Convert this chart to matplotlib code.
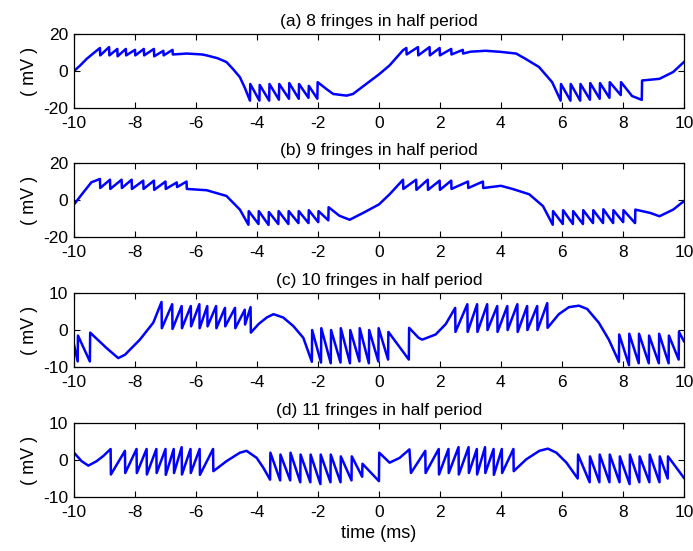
import numpy as np
import matplotlib
matplotlib.use("Agg")
import matplotlib.pyplot as plt

plt.rcParams['font.family'] = ['Liberation Sans', 'DejaVu Sans']
plt.rcParams['axes.unicode_minus'] = False

# (time ms, mV) vertices
pts_a = [(-10, 0), (-9.8, 3), (-9.58, 6.7), (-9.3, 10.5), (-9.15, 12.5),
         (-9.14, 8.5), (-8.85, 13), (-8.84, 8.5), (-8.58, 12), (-8.57, 8), (-8.30, 12), (-8.29, 8.5),
         (-8.0, 11.5), (-7.99, 8.5), (-7.71, 12), (-7.70, 8.5), (-7.38, 12), (-7.37, 8), (-7.07, 11),
         (-7.06, 8.5), (-6.77, 11.5), (-6.76, 9),
         (-6.3, 9.5), (-5.8, 9), (-5.65, 8.5), (-5.3, 7), (-5.0, 4.9), (-4.78, 1.0), (-4.56, -3.3),
         (-4.4, -9), (-4.23, -16),
         (-4.22, -7), (-3.92, -16), (-3.91, -7.5), (-3.60, -16), (-3.59, -7), (-3.28, -15.5), (-3.27, -7),
         (-2.95, -15), (-2.94, -6.5), (-2.63, -15), (-2.62, -7), (-2.31, -14.5), (-2.30, -8), (-2.02, -15),
         (-2.01, -6),
         (-1.7, -10), (-1.5, -12.4), (-1.06, -13.3), (-0.85, -12.4), (-0.41, -6.9), (0, -1.8), (0.35, 3.1),
         (0.79, 11.3), (0.9, 12.5),
         (0.91, 9), (1.28, 13), (1.29, 8.5), (1.66, 13), (1.67, 8.5), (1.99, 12.5), (2.0, 8.5), (2.37, 12),
         (2.38, 9), (2.75, 11.5), (2.76, 9.5),
         (3.0, 10.5), (3.5, 11), (4.0, 10.4), (4.5, 9.5), (4.8, 6.7), (5.25, 2.2), (5.68, -6), (5.96, -16),
         (5.97, -7), (6.28, -16), (6.29, -7), (6.6, -16), (6.61, -7), (6.92, -15.5), (6.93, -6.5),
         (7.24, -15), (7.25, -6.5), (7.56, -14.5), (7.57, -6), (7.93, -13), (7.94, -6),
         (8.3, -13.5), (8.62, -15.6), (8.63, -5.1), (9.2, -4.2), (9.65, -0.5), (10, 4.9)]

pts_b = [(-10, -2.4), (-9.7, 4), (-9.43, 9.6), (-9.15, 11.4),
         (-9.14, 6.5), (-8.82, 11), (-8.81, 6), (-8.44, 11), (-8.43, 6.5), (-8.11, 11), (-8.10, 6),
         (-7.73, 10.5), (-7.72, 6), (-7.38, 10.5), (-7.37, 5.5), (-7.0, 10), (-6.99, 6), (-6.63, 9.5),
         (-6.62, 7), (-6.31, 10), (-6.30, 6),
         (-5.65, 5.3), (-5.0, 2.2), (-4.56, -5.2), (-4.28, -13.4),
         (-4.27, -6), (-3.95, -13), (-3.94, -6), (-3.62, -13.5), (-3.61, -6.5), (-3.30, -13), (-3.29, -6),
         (-2.97, -13), (-2.96, -6), (-2.64, -12.5), (-2.63, -6), (-2.31, -12.5), (-2.30, -5.5),
         (-1.99, -12), (-1.98, -6), (-1.66, -11), (-1.65, -3.9),
         (-1.3, -8.5), (-0.96, -10.7), (-0.52, -7), (0, -2.4), (0.35, 3.1), (0.79, 11),
         (0.80, 6), (1.22, 11), (1.23, 5.5), (1.60, 11), (1.61, 5.5), (1.99, 10.5), (2.0, 5.5),
         (2.37, 10.5), (2.38, 6), (2.92, 10), (2.93, 6.5), (3.41, 10), (3.42, 6.5),
         (4.0, 7.7), (4.4, 5.9), (4.93, 3.1), (5.38, -3.3), (5.7, -13.4),
         (5.71, -6), (6.03, -13), (6.04, -5.5), (6.36, -13), (6.37, -6), (6.69, -13), (6.70, -5.5),
         (7.02, -12.5), (7.03, -5.5), (7.35, -12.5), (7.36, -5), (7.68, -12.5), (7.69, -5.5),
         (8.01, -12), (8.02, -5.5), (8.4, -12.5), (8.41, -5.2),
         (8.9, -7), (9.2, -8.8), (9.65, -5.2), (10, -0.6)]

pts_c = [(-10, -4), (-9.88, -8.5), (-9.87, -1.5), (-9.48, -8.5), (-9.47, -0.7), (-8.93, -4.9),
         (-8.55, -7.6), (-8.33, -6.7), (-7.84, -2.6), (-7.4, 2.0), (-7.13, 7.6),
         (-7.12, 0.5), (-6.78, 7), (-6.77, 0.3), (-6.47, 6.5), (-6.46, 0.5), (-6.17, 6.5), (-6.16, 1),
         (-5.89, 7), (-5.88, 0.5), (-5.63, 6.5), (-5.62, 1), (-5.34, 6.5), (-5.33, 0.5), (-5.05, 6),
         (-5.04, 1), (-4.72, 6), (-4.71, 0.5), (-4.40, 5.5), (-4.39, 1.5), (-4.21, 6.2), (-4.20, -0.7),
         (-3.95, 1.6), (-3.68, 3.4), (-3.46, 4.3), (-3.14, 3.4), (-2.81, 1.1), (-2.48, -2.1), (-2.2, -8.6),
         (-2.19, 0), (-1.9, -8.8), (-1.89, 0.5), (-1.58, -9), (-1.57, 0), (-1.26, -8.8), (-1.25, 0.5),
         (-0.95, -9), (-0.94, 0), (-0.64, -8.5), (-0.63, 0.5), (-0.33, -9), (-0.32, 0), (-0.02, -8.5),
         (-0.01, 0.5), (0.3, -8), (0.31, -0.5), (0.98, -8),
         (0.99, 0.6), (1.3, -2.1), (1.42, -2.6), (1.86, -1.2), (2.19, 1.6), (2.5, 6),
         (2.51, -0.5), (2.9, 7), (2.91, -0.5), (3.22, 7), (3.23, -0.5), (3.55, 7), (3.56, 0), (3.88, 6.5),
         (3.89, -0.5), (4.21, 6.5), (4.22, 0), (4.54, 7), (4.55, -0.5), (4.86, 6.5), (4.87, 0),
         (5.19, 6.5), (5.20, 0), (5.52, 7.3), (5.53, 0.6),
         (5.9, 4.3), (6.23, 6.2), (6.56, 6.6), (6.83, 5.7), (7.21, 2.0), (7.54, -2.6), (7.87, -8.6),
         (7.88, -1.2), (8.2, -9.5), (8.21, -1), (8.52, -9), (8.53, -1), (8.85, -9), (8.86, -1.5),
         (9.18, -9), (9.19, -1), (9.5, -9), (9.51, -1.5), (9.83, -8), (9.84, -0.5), (10, -3)]

pts_d = [(-10, 2), (-9.75, -0.3), (-9.53, -1.5), (-9.26, -0.3), (-9.04, 1.1), (-8.8, 3),
         (-8.79, -3.9), (-8.33, 2.5), (-8.32, -3.5), (-7.95, 3), (-7.94, -3.5), (-7.62, 3), (-7.61, -3.9),
         (-7.30, 3), (-7.29, -3.5), (-7.0, 3), (-6.99, -4), (-6.73, 3), (-6.72, -3.5), (-6.47, 3.5),
         (-6.46, -3.9), (-6.18, 3), (-6.17, -3.5), (-5.88, 3), (-5.87, -4), (-5.44, 3), (-5.43, -3),
         (-5.0, -0.3), (-4.56, 2.0), (-4.34, 2.5), (-4.01, 0.6), (-3.79, -2.1), (-3.57, -5.3),
         (-3.56, 2), (-3.24, -5.5), (-3.23, 1.5), (-2.91, -5.5), (-2.90, 2), (-2.58, -6), (-2.57, 1.5),
         (-2.25, -6), (-2.24, 1.5), (-1.92, -6.5), (-1.91, 1.5), (-1.59, -6), (-1.58, 1.5), (-1.26, -6),
         (-1.25, 1), (-0.9, -5.5), (-0.89, 1), (-0.55, -4.5), (-0.54, -1), (0.0, -5.7),
         (0.01, 2), (0.35, -0.7), (0.68, 0.6), (1.0, 2.9),
         (1.05, -3.5), (1.52, 2.5), (1.53, -3.5), (1.96, 3), (1.97, -3.9), (2.28, 3), (2.29, -3.5),
         (2.61, 3.5), (2.62, -3.9), (2.94, 3.5), (2.95, -3.5), (3.21, 3), (3.22, -3.9), (3.48, 3.5),
         (3.49, -3.5), (3.76, 3), (3.77, -4), (4.03, 3), (4.04, -3.5), (4.41, 3), (4.42, -3),
         (4.83, 0.2), (5.26, 2.5), (5.54, 3.1), (5.82, 2.0), (6.15, -0.7), (6.52, -5),
         (6.53, 1.5), (6.91, -6), (6.92, 1), (7.23, -6), (7.24, 1.5), (7.56, -6), (7.57, 1.5),
         (7.89, -6), (7.90, 1), (8.22, -6.5), (8.23, 1.5), (8.54, -6), (8.55, 1), (8.87, -6),
         (8.88, 1.5), (9.2, -6), (9.21, 1), (9.47, -5), (9.48, 1), (10, -4.8)]

titles = ['(a) 8 fringes in half period', '(b) 9 fringes in half period',
          '(c) 10 fringes in half period', '(d) 11 fringes in half period']
ylims = [20, 20, 10, 10]
xticks = np.arange(-10, 11, 2)

fig = plt.figure(figsize=(6.93, 5.51), dpi=100)
bottoms = [0.804, 0.570, 0.334, 0.098]
height = 0.134
left, width = 0.1068, 0.880

for i, pts in enumerate([pts_a, pts_b, pts_c, pts_d]):
    ax = fig.add_axes([left, bottoms[i], width, height])
    t, v = np.array(pts).T
    ax.plot(t, v, color='#0000ff', linewidth=1.8)
    ax.set_xlim(-10, 10)
    ax.set_ylim(-ylims[i], ylims[i])
    ax.set_xticks(xticks)
    ax.set_yticks([-ylims[i], 0, ylims[i]])
    ax.tick_params(direction='in', top=True, right=True, length=4, labelsize=12.5)
    ax.tick_params(axis='x', pad=6)
    ax.tick_params(axis='y', pad=4)
    ax.set_ylabel('( mV )', fontsize=13, labelpad=4)
    ax.set_title(titles[i], fontsize=12.5, pad=6)
    for s in ax.spines.values():
        s.set_linewidth(0.9)
    if i == 3:
        ax.set_xlabel('time (ms)', fontsize=13, labelpad=3)

fig.savefig('out.png', dpi=100)
